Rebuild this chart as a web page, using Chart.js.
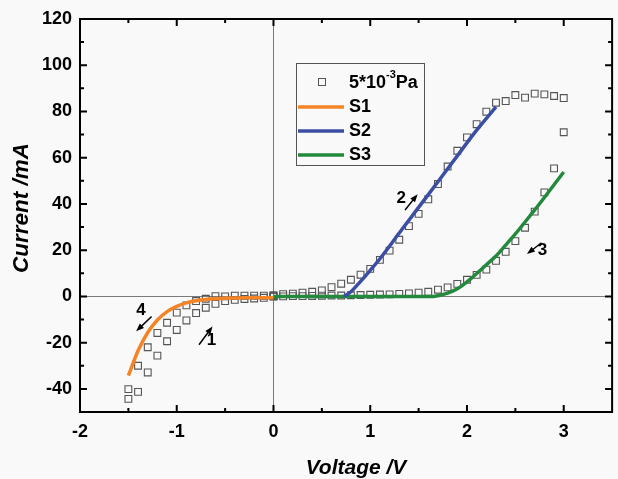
<!DOCTYPE html>
<html>
<head>
<meta charset="utf-8">
<script src="https://cdn.jsdelivr.net/npm/chart.js@4.4.0/dist/chart.umd.min.js"></script>
<style>
  html, body { margin: 0; padding: 0; background: #f9f9f9; }
  canvas { display: block; }
</style>
</head>
<body>
<canvas id="ivChart" width="618" height="479"></canvas>
<script>
// ================= DATA =================
const xTicks = [-2, -1, 0, 1, 2, 3];
const xMinor = [-1.5, -0.5, 0.5, 1.5, 2.5];
const yTicks = [-40, -20, 0, 20, 40, 60, 80, 100, 120];
const yMinor = [-30, -10, 10, 30, 50, 70, 90, 110];

// measured points (5*10^-3 Pa), negative side: sweep 1 (lower) and sweep 4 (upper)
const negV = [-1.5, -1.4, -1.3, -1.2, -1.1, -1.0, -0.9, -0.8, -0.7, -0.6, -0.5, -0.4, -0.3, -0.2, -0.1, 0];
const sweep1I = [-44.3, -41.3, -32.9, -25.6, -19.4, -14.5, -10.4, -7.2, -4.9, -3.2, -2.0, -1.5, -1.1, -0.9, -0.6, 0];
const sweep4I = [-40.1, -30.0, -22.0, -15.8, -11.4, -7.0, -3.9, -2.0, -1.0, 0.1, 0.0, 0.3, 0.3, 0.3, 0.3, 0];

// positive side: sweep 2 (forward, upper) and sweep 3 (return, lower)
const posV = [0, 0.1, 0.2, 0.3, 0.4, 0.5, 0.6, 0.7, 0.8, 0.9, 1.0, 1.1, 1.2, 1.3, 1.4, 1.5,
              1.6, 1.7, 1.8, 1.9, 2.0, 2.1, 2.2, 2.3, 2.4, 2.5, 2.6, 2.7, 2.8, 2.9, 3.0];
const sweep2I = [0.5, 1.0, 1.2, 1.6, 2.0, 2.6, 4.0, 5.5, 7.2, 9.4, 11.9, 15.8, 19.8, 24.5, 30.4, 35.7,
                 42.0, 48.6, 56.2, 63.0, 68.8, 74.5, 79.9, 83.8, 84.5, 87.1, 86.0, 87.7, 87.4, 86.7, 85.8];
const sweep3I = [0, 0, 0.1, 0.1, 0.2, 0.3, 0.4, 0.4, 0.5, 0.6, 0.7, 0.8, 0.9, 1.1, 1.3, 1.6,
                 2.0, 2.9, 3.9, 5.4, 7.2, 9.3, 11.6, 15.4, 19.3, 23.9, 29.7, 36.7, 45.0, 55.4, 71.0];

// fitted curves
const s1V = [-1.5, -1.4, -1.3, -1.2, -1.1, -1.0, -0.9, -0.8, -0.7, -0.6, -0.5, -0.4, -0.3, -0.2, -0.1, 0];
const s1I = [-34.3, -23.5, -15.6, -10.2, -6.6, -4.3, -2.8, -1.9, -1.3, -1.0, -0.8, -0.7, -0.6, -0.6, -0.6, -0.6];
const s2V = [0.73, 0.8, 0.9, 1.0, 1.1, 1.3, 1.5, 1.7, 1.9, 2.1, 2.3];
const s2I = [0, 2.0, 6.5, 11.3, 16.3, 27.4, 38.5, 49.6, 60.8, 71.9, 82.0];
const s3V = [0, 0.5, 1.0, 1.5, 1.65, 1.7, 1.8, 1.9, 2.0, 2.1, 2.2, 2.3, 2.4, 2.5, 2.6, 2.7, 2.8, 2.9, 3.0];
const s3I = [0, 0, 0, 0, 0, 0.3, 1.4, 3.3, 6.3, 9.9, 13.7, 17.5, 22.2, 27.0, 32.2, 37.4, 42.8, 48.3, 53.8];

// sweep direction labels (data units)
const notes = [
  { text: '4', at: [-1.37, -6.1], from: [-1.26, -8.7], to: [-1.42, -15.1] },
  { text: '1', at: [-0.64, -18.8], from: [-0.77, -20.9], to: [-0.63, -13.0] },
  { text: '2', at: [1.32, 42.5], from: [1.36, 37.4], to: [1.49, 44.2] },
  { text: '3', at: [2.78, 20.0], from: [2.77, 23.2], to: [2.62, 18.3] }
];

const xTitle = 'Voltage /V';
const yTitle = 'Current /mA';

const pts = (vs, is) => vs.map((v, i) => ({ x: v, y: is[i] }));
const FONT = '"Liberation Sans", Arial, sans-serif';

// ================= DECORATION PLUGIN =================
const frame = {
  id: 'frame',
  beforeDatasetsDraw(chart) {
    const { ctx, chartArea: a, scales: { x, y } } = chart;
    ctx.save();
    ctx.strokeStyle = '#7a7a7a';
    ctx.lineWidth = 1;
    const x0 = Math.round(x.getPixelForValue(0)) + 0.5;
    const y0 = Math.round(y.getPixelForValue(0)) + 0.5;
    ctx.beginPath();
    ctx.moveTo(x0, a.top); ctx.lineTo(x0, a.bottom);
    ctx.moveTo(a.left, y0); ctx.lineTo(a.right, y0);
    ctx.stroke();
    ctx.restore();
  },
  afterDatasetsDraw(chart) {
    const { ctx, chartArea: a, scales: { x, y } } = chart;
    ctx.save();

    // box + inward ticks
    ctx.strokeStyle = '#000';
    ctx.lineWidth = 2;
    ctx.strokeRect(a.left, a.top, a.right - a.left, a.bottom - a.top);
    ctx.beginPath();
    const tickX = (v, len) => {
      const px = x.getPixelForValue(v);
      ctx.moveTo(px, a.bottom); ctx.lineTo(px, a.bottom - len);
      ctx.moveTo(px, a.top); ctx.lineTo(px, a.top + len);
    };
    const tickY = (v, len) => {
      const py = y.getPixelForValue(v);
      ctx.moveTo(a.left, py); ctx.lineTo(a.left + len, py);
      ctx.moveTo(a.right, py); ctx.lineTo(a.right - len, py);
    };
    xTicks.forEach(v => tickX(v, 7));
    xMinor.forEach(v => tickX(v, 4));
    yTicks.forEach(v => tickY(v, 7));
    yMinor.forEach(v => tickY(v, 4));
    ctx.stroke();

    // legend
    ctx.lineWidth = 1;
    ctx.strokeStyle = '#555';
    ctx.strokeRect(296.5, 63.5, 128, 102);
    ctx.strokeRect(318.5, 78.5, 7, 7);
    ctx.fillStyle = '#000';
    ctx.textBaseline = 'middle';
    ctx.textAlign = 'left';
    ctx.font = 'bold 18px ' + FONT;
    ctx.fillText('5*10', 349, 83);
    let tx = 349 + ctx.measureText('5*10').width;
    ctx.font = 'bold 11px ' + FONT;
    ctx.fillText('-3', tx, 75);
    tx += ctx.measureText('-3').width;
    ctx.font = 'bold 18px ' + FONT;
    ctx.fillText('Pa', tx, 83);
    [0, 1, 2].forEach(i => {
      const ds = chart.data.datasets[i];
      const ly = 107 + i * 24;
      ctx.strokeStyle = ds.borderColor;
      ctx.lineWidth = 3.5;
      ctx.beginPath();
      ctx.moveTo(298, ly); ctx.lineTo(344, ly);
      ctx.stroke();
      ctx.fillText(ds.label, 349, ly);
    });

    // sweep arrows
    ctx.textAlign = 'center';
    ctx.font = 'bold 17px ' + FONT;
    ctx.strokeStyle = '#000';
    ctx.lineWidth = 1.5;
    notes.forEach(n => {
      ctx.fillText(n.text, x.getPixelForValue(n.at[0]), y.getPixelForValue(n.at[1]));
      const x1 = x.getPixelForValue(n.from[0]), y1 = y.getPixelForValue(n.from[1]);
      const x2 = x.getPixelForValue(n.to[0]), y2 = y.getPixelForValue(n.to[1]);
      const ang = Math.atan2(y2 - y1, x2 - x1);
      ctx.beginPath();
      ctx.moveTo(x1, y1);
      ctx.lineTo(x2 - 5 * Math.cos(ang), y2 - 5 * Math.sin(ang));
      ctx.stroke();
      ctx.beginPath();
      ctx.moveTo(x2, y2);
      ctx.lineTo(x2 - 8 * Math.cos(ang) + 3 * Math.sin(ang), y2 - 8 * Math.sin(ang) - 3 * Math.cos(ang));
      ctx.lineTo(x2 - 8 * Math.cos(ang) - 3 * Math.sin(ang), y2 - 8 * Math.sin(ang) + 3 * Math.cos(ang));
      ctx.closePath();
      ctx.fill();
    });

    // axis titles
    ctx.font = 'bold italic 21px ' + FONT;
    ctx.fillText(xTitle, 356, 468);
    ctx.translate(22, 208);
    ctx.rotate(-Math.PI / 2);
    ctx.font = 'bold italic 22px ' + FONT;
    const w = ctx.measureText(yTitle).width;
    ctx.scale(130 / w, 1);
    ctx.fillText(yTitle, 0, 0);

    ctx.restore();
  }
};

// ================= CHART =================
new Chart(document.getElementById('ivChart'), {
  type: 'scatter',
  data: {
    datasets: [
      { label: 'S1', data: pts(s1V, s1I), showLine: true, borderColor: '#f58426', borderWidth: 3.5,
        pointRadius: 0, cubicInterpolationMode: 'monotone', order: 1 },
      { label: 'S2', data: pts(s2V, s2I), showLine: true, borderColor: '#3b4ea3', borderWidth: 3.5,
        pointRadius: 0, cubicInterpolationMode: 'monotone', order: 2 },
      { label: 'S3', data: pts(s3V, s3I), showLine: true, borderColor: '#23893c', borderWidth: 3.5,
        pointRadius: 0, cubicInterpolationMode: 'monotone', order: 3 },
      { label: '5*10^-3 Pa',
        data: [...pts(negV, sweep1I), ...pts(posV, sweep2I), ...pts(posV, sweep3I), ...pts(negV, sweep4I)],
        pointStyle: 'rect', pointRadius: 4.8, borderWidth: 1.1, borderColor: '#555',
        backgroundColor: 'rgba(0,0,0,0)', order: 4 }
    ]
  },
  options: {
    responsive: false,
    animation: false,
    devicePixelRatio: 1,
    layout: { padding: { top: 19, right: 1, left: 0, bottom: 0 } },
    plugins: { legend: { display: false }, tooltip: { enabled: false } },
    scales: {
      x: {
        type: 'linear', min: -2, max: 3.5,
        afterBuildTicks: s => { s.ticks = xTicks.map(v => ({ value: v })); },
        afterFit: s => { s.height = 67; },
        grid: { display: false, drawTicks: false },
        border: { display: false },
        ticks: { padding: 9, color: '#000', font: { family: FONT, size: 18, weight: 'bold' } }
      },
      y: {
        type: 'linear', min: -50, max: 120,
        afterBuildTicks: s => { s.ticks = yTicks.map(v => ({ value: v })); },
        afterFit: s => { s.width = 80; },
        grid: { display: false, drawTicks: false },
        border: { display: false },
        ticks: { padding: 8, color: '#000', font: { family: FONT, size: 18, weight: 'bold' } }
      }
    }
  },
  plugins: [frame]
});
</script>
</body>
</html>
